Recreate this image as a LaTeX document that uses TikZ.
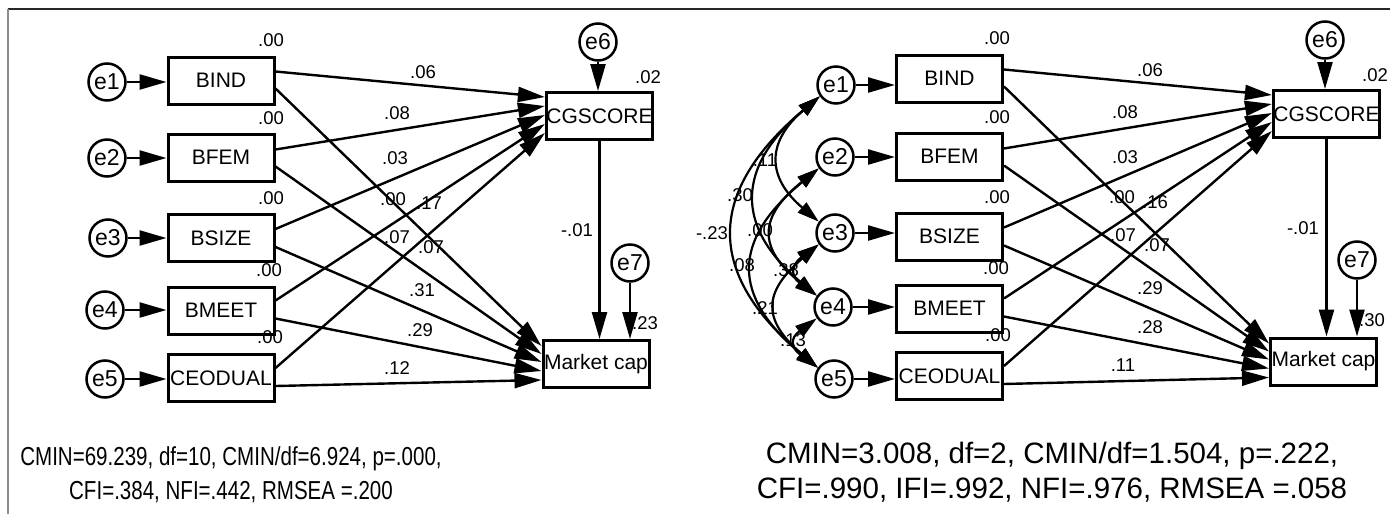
\documentclass[tikz,border=0pt]{standalone}
\usepackage{fontspec}
\usepackage{graphicx}
\setmainfont{Liberation Sans}
\usetikzlibrary{arrows.meta,calc}

\begin{document}
\begin{tikzpicture}[x=1pt,y=-1pt,
  box/.style={draw, line width=3pt, minimum width=106pt, minimum height=47pt,
              inner sep=0pt, font=\fontsize{21}{21}\selectfont},
  err/.style={draw, circle, line width=2.5pt, minimum size=37pt, inner sep=0pt,
              font=\fontsize{23}{23}\selectfont},
  reg/.style={line width=2.4pt, -{Triangle[length=27pt,width=15pt]}},
  cov/.style={line width=2.2pt,
              {Triangle[length=22pt,width=13pt]}-{Triangle[length=22pt,width=13pt]}},
  coef/.style={font=\fontsize{18.5}{18.5}\selectfont, inner sep=0pt},
  fitstat/.style={align=center, inner sep=0pt}
]
\useasboundingbox (0,0) rectangle (1390,514);
\fill[white] (0,0) rectangle (1390,514);

% frame
\draw[line width=2pt, black!85] (8,9) -- (1390,9);
\draw[line width=2.5pt, black!45] (8,9) -- (8,514);

% ================= model without error covariances =================
\node[box] (Lbind)  at (221,80.5)  {BIND};
\node[box] (Lbfem)  at (221,157.5) {BFEM};
\node[box] (Lbsize) at (221,238)   {BSIZE};
\node[box] (Lbmeet) at (221,310.5) {BMEET};
\node[box] (Lceo)   at (221,378)   {CEODUAL};
\node[box] (Lcg)    at (599.5,116) {CGSCORE};
\node[box] (Lmc)    at (596,364)   {Market cap};

\node[err] (Le1) at (107,82)  {e1};
\node[err] (Le2) at (107,158) {e2};
\node[err] (Le3) at (108,238) {e3};
\node[err] (Le4) at (105,310) {e4};
\node[err] (Le5) at (105,379) {e5};
\node[err] (Le6) at (598,42)  {e6};
\node[err] (Le7) at (630,263) {e7};

\draw[reg] (Le1) -- (Le1 -| Lbind.west);
\draw[reg] (Le2) -- (Le2 -| Lbfem.west);
\draw[reg] (Le3) -- (Le3 -| Lbsize.west);
\draw[reg] (Le4) -- (Le4 -| Lbmeet.west);
\draw[reg] (Le5) -- (Le5 -| Lceo.west);
\draw[reg] (Le6) -- (Le6 |- Lcg.north);
\draw[reg] (Le7) -- (Le7 |- Lmc.north);
\draw[reg] (Lcg.south) -- (Lcg.south |- Lmc.north);

\draw[reg] ([yshift=9pt]Lbind.east)  -- ([yshift=19pt]Lcg.west);
\draw[reg] ([yshift=8pt]Lbfem.east)  -- ([yshift=10pt]Lcg.west);
\draw[reg] ([yshift=9pt]Lbsize.east) -- ([yshift=1pt]Lcg.west);
\draw[reg] ([yshift=10pt]Lbmeet.east) -- ([yshift=-8pt]Lcg.west);
\draw[reg] ([yshift=10pt]Lceo.east)  -- ([yshift=-17pt]Lcg.west);

\draw[reg] ([yshift=-8pt]Lbind.east)  -- ([yshift=18pt]Lmc.west);
\draw[reg] ([yshift=-9pt]Lbfem.east)  -- ([yshift=10pt]Lmc.west);
\draw[reg] ([yshift=-9pt]Lbsize.east) -- ([yshift=2pt]Lmc.west);
\draw[reg] ([yshift=-8pt]Lbmeet.east) -- ([yshift=-7pt]Lmc.west);
\draw[reg] ([yshift=-8pt]Lceo.east)  -- ([yshift=-16pt]Lmc.west);

\node[coef] (Lv1) at (271,40)  {.00};
\node[coef] (Lv2) at (271,118) {.00};
\node[coef] (Lv3) at (271,198) {.00};
\node[coef] (Lv4) at (269,270) {.00};
\node[coef] (Lv5) at (270,337) {.00};
\node[coef] (Lv6) at (648,77)  {.02};
\node[coef] (Lv7) at (645,323) {.23};

\node[coef] (Lp1)  at (423,72)  {.06};
\node[coef] (Lp2)  at (397,113) {.08};
\node[coef] (Lp3)  at (395,158) {.03};
\node[coef] (Lp4)  at (393,199) {.00};
\node[coef] (Lp5)  at (429,203) {.17};
\node[coef] (Lp6)  at (397,237) {.07};
\node[coef] (Lp7)  at (431,247) {.07};
\node[coef] (Lp8)  at (422,290) {.31};
\node[coef] (Lp9)  at (420,330) {.29};
\node[coef] (Lp10) at (397,368) {.12};
\node[coef] (Lp11) at (577,230) {-.01};

\node[fitstat, font=\fontsize{26}{34}\selectfont] (Lfit) at (231,475)
  {\scalebox{0.79}[1]{CMIN=69.239, df=10, CMIN/df=6.924, p=.000,}\\
   \scalebox{0.79}[1]{CFI=.384, NFI=.442, RMSEA =.200}};

% ================= model with error covariances =================
\node[box] (Rbind)  at (949.5,78.5)  {BIND};
\node[box] (Rbfem)  at (949.5,156.5) {BFEM};
\node[box] (Rbsize) at (949.5,236.5) {BSIZE};
\node[box] (Rbmeet) at (949.5,308.5) {BMEET};
\node[box] (Rceo)   at (949.5,376)   {CEODUAL};
\node[box] (Rcg)    at (1326.5,114)  {CGSCORE};
\node[box] (Rmc)    at (1323.5,361.5) {Market cap};

\node[err] (Re1) at (836,85)  {e1};
\node[err] (Re2) at (835,157) {e2};
\node[err] (Re3) at (835,233) {e3};
\node[err] (Re4) at (833,307) {e4};
\node[err] (Re5) at (834,379) {e5};
\node[err] (Re6) at (1325,40)  {e6};
\node[err] (Re7) at (1357,260) {e7};

\draw[reg] (Re1) -- (Re1 -| Rbind.west);
\draw[reg] (Re2) -- (Re2 -| Rbfem.west);
\draw[reg] (Re3) -- (Re3 -| Rbsize.west);
\draw[reg] (Re4) -- (Re4 -| Rbmeet.west);
\draw[reg] (Re5) -- (Re5 -| Rceo.west);
\draw[reg] (Re6) -- (Re6 |- Rcg.north);
\draw[reg] (Re7) -- (Re7 |- Rmc.north);
\draw[reg] (Rcg.south) -- (Rcg.south |- Rmc.north);

\draw[reg] ([yshift=9pt]Rbind.east)  -- ([yshift=19pt]Rcg.west);
\draw[reg] ([yshift=8pt]Rbfem.east)  -- ([yshift=10pt]Rcg.west);
\draw[reg] ([yshift=9pt]Rbsize.east) -- ([yshift=1pt]Rcg.west);
\draw[reg] ([yshift=10pt]Rbmeet.east) -- ([yshift=-8pt]Rcg.west);
\draw[reg] ([yshift=10pt]Rceo.east)  -- ([yshift=-17pt]Rcg.west);

\draw[reg] ([yshift=-8pt]Rbind.east)  -- ([yshift=18pt]Rmc.west);
\draw[reg] ([yshift=-9pt]Rbfem.east)  -- ([yshift=10pt]Rmc.west);
\draw[reg] ([yshift=-9pt]Rbsize.east) -- ([yshift=2pt]Rmc.west);
\draw[reg] ([yshift=-8pt]Rbmeet.east) -- ([yshift=-7pt]Rmc.west);
\draw[reg] ([yshift=-8pt]Rceo.east)  -- ([yshift=-16pt]Rmc.west);

% error covariances
\draw[cov] (Re1.215) .. controls +(-113,95) and +(-113,-95) .. (Re5.145);
\draw[cov] (Re1.215) .. controls +(-83,70) and +(-83,-70) .. (Re4.145);
\draw[cov] (Re2.215) .. controls +(-87,72) and +(-87,-72) .. (Re5.145);
\draw[cov] (Re1.215) .. controls +(-53,45) and +(-53,-45) .. (Re3.145);
\draw[cov] (Re2.215) .. controls +(-60,48) and +(-60,-48) .. (Re4.145);
\draw[cov] (Re3.215) .. controls +(-56,48) and +(-56,-48) .. (Re5.145);
\draw[cov] (Re3.215) .. controls +(-27,20) and +(-27,-20) .. (Re4.145);
\draw[cov] (Re4.215) .. controls +(-27,20) and +(-27,-20) .. (Re5.145);

\node[coef] (Rc1) at (712,233) {-.23};
\node[coef] (Rc2) at (740,195) {.30};
\node[coef] (Rc3) at (742,265) {.08};
\node[coef] (Rc4) at (765,160) {.11};
\node[coef] (Rc5) at (760,230) {.00};
\node[coef] (Rc6) at (765,308) {.21};
\node[coef] (Rc7) at (786,270) {.38};
\node[coef] (Rc8) at (793,340) {.13};

\node[coef] (Rv1) at (997,38)  {.00};
\node[coef] (Rv2) at (997,117) {.00};
\node[coef] (Rv3) at (997,197) {.00};
\node[coef] (Rv4) at (996,268) {.00};
\node[coef] (Rv5) at (998,335) {.00};
\node[coef] (Rv6) at (1375,75)  {.02};
\node[coef] (Rv7) at (1372,320) {.30};

\node[coef] (Rp1)  at (1150,70)  {.06};
\node[coef] (Rp2)  at (1125,112) {.08};
\node[coef] (Rp3)  at (1125,157) {.03};
\node[coef] (Rp4)  at (1122,197) {.00};
\node[coef] (Rp5)  at (1155,202) {.16};
\node[coef] (Rp6)  at (1123,235) {.07};
\node[coef] (Rp7)  at (1157,245) {.07};
\node[coef] (Rp8)  at (1150,288) {.29};
\node[coef] (Rp9)  at (1150,327) {.28};
\node[coef] (Rp10) at (1123,365) {.11};
\node[coef] (Rp11) at (1303,228) {-.01};

\node[fitstat, font=\fontsize{29.5}{35}\selectfont] (Rfit) at (1052,472)
  {CMIN=3.008, df=2, CMIN/df=1.504, p=.222,\\CFI=.990, IFI=.992, NFI=.976, RMSEA =.058};
\end{tikzpicture}
\end{document}
